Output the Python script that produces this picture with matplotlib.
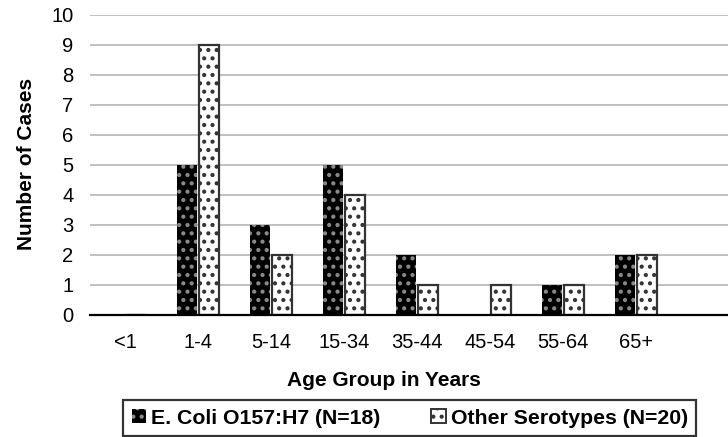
import numpy as np
import matplotlib
matplotlib.use("Agg")
import matplotlib.pyplot as plt

age_groups = ["<1", "1-4", "5-14", "15-34", "35-44", "45-54", "55-64", "65+"]
ecoli_o157 = [0, 5, 3, 5, 2, 0, 1, 2]
other_serotypes = [0, 9, 2, 4, 1, 1, 1, 2]

plt.rcParams["font.family"] = ["Liberation Sans", "DejaVu Sans"]
plt.rcParams["hatch.linewidth"] = 1.8

fig = plt.figure(figsize=(7.28, 4.37), dpi=100)
ax = fig.add_axes([90 / 728, 1 - 315 / 437, 1 - 90 / 728, 300 / 437])

x = np.arange(len(age_groups))
w = 0.27
off = 0.155

ax.bar(x - off, ecoli_o157, w, color="black", edgecolor="#8a8a8a",
       hatch="..", linewidth=0, zorder=3)
ax.bar(x + off, other_serotypes, w, color="white", edgecolor="#333333",
       hatch="..", linewidth=1.6, zorder=3)

ax.set_xlim(-0.479, 8.26)
ax.set_ylim(0, 10)
ax.set_yticks(range(0, 11))
ax.set_xticks(x)
ax.set_xticklabels(age_groups)
ax.tick_params(axis="both", length=0, labelsize=14.5)
ax.tick_params(axis="x", pad=13)
ax.tick_params(axis="y", pad=12)

ax.grid(axis="y", color="#c0c0c0", linewidth=1.4, zorder=0)
ax.set_axisbelow(True)
for s in ["top", "right", "left"]:
    ax.spines[s].set_visible(False)
ax.spines["bottom"].set_linewidth(1.6)
ax.spines["bottom"].set_zorder(4)

fig.text(27 / 728, 1 - 164 / 437, "Number of Cases", fontsize=15,
         fontweight="bold", rotation=90, ha="center", va="center")
fig.text(384 / 728, 1 - 381 / 437, "Age Group in Years", fontsize=15,
         fontweight="bold", ha="center", va="center")

h1 = plt.Rectangle((0, 0), 1, 1, facecolor="black", edgecolor="#8a8a8a",
                   hatch="..", linewidth=0)
h2 = plt.Rectangle((0, 0), 1, 1, facecolor="white", edgecolor="#333333",
                   hatch="..", linewidth=1.4)
leg = fig.legend([h1, h2], ["E. Coli O157:H7 (N=18)", "Other Serotypes (N=20)"],
                 loc="upper left", bbox_to_anchor=(123 / 728, 1 - 400 / 437),
                 ncol=2, prop={"weight": "bold", "size": 15.3},
                 frameon=True, fancybox=False, edgecolor="black",
                 handlelength=0.67, handleheight=0.67, handletextpad=0.25,
                 columnspacing=2.4, borderpad=0.4, borderaxespad=0)
leg.get_frame().set_linewidth(1.6)

fig.savefig("out.png", dpi=100)
